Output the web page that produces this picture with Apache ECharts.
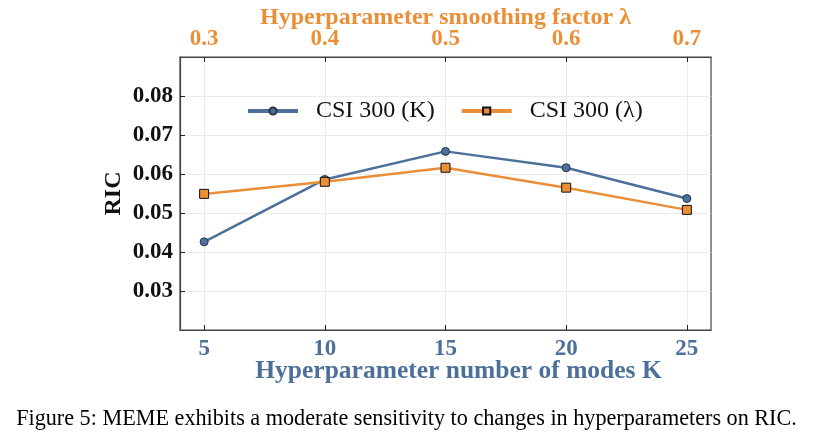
<!DOCTYPE html>
<html><head><meta charset="utf-8">
<script src="https://cdn.jsdelivr.net/npm/echarts@6/dist/echarts.min.js"></script>
<style>html,body{margin:0;padding:0;background:#fff;}#c{width:813px;height:442px;}</style>
</head><body><div id="c"></div>
<script>
const kValues = [5, 10, 15, 20, 25];
const lambdaValues = [0.3, 0.4, 0.5, 0.6, 0.7];
const ricK = [0.0426, 0.0586, 0.0658, 0.0616, 0.0537];
const ricLambda = [0.0549, 0.0580, 0.0616, 0.0565, 0.0508];
const yTicks = [0.03, 0.04, 0.05, 0.06, 0.07, 0.08];
const seriesNames = ['CSI 300 (K)', 'CSI 300 (λ)'];
const caption = 'Figure 5: MEME exhibits a moderate sensitivity to changes in hyperparameters on RIC.';

const blue = '#4d709b', orange = '#ea8f37';
const serif = 'Liberation Serif';
const chart = echarts.init(document.getElementById('c'));
chart.setOption({
  backgroundColor: '#fff',
  animation: false,
  title: {
    text: caption, left: 'center', top: 403,
    textStyle: { fontFamily: serif, fontSize: 22.2, fontWeight: 'normal', color: '#000' }
  },
  legend: {
    top: 94, left: 241, itemWidth: 50, itemHeight: 9, itemGap: 25,
    lineStyle: { width: 4 },
    textStyle: { fontFamily: serif, fontSize: 24, color: '#111', padding: [0, 0, 0, 13] },
    data: seriesNames
  },
  grid: { left: 180, right: 102, top: 57, bottom: 112, show: true, borderColor: '#444', borderWidth: 1.2,
          outerBoundsMode: 'none', containLabel: false },
  xAxis: [{
    type: 'value', min: 4, max: 26, position: 'bottom',
    name: 'Hyperparameter number of modes K', nameLocation: 'middle', nameGap: 28, nameMoveOverlap: false,
    nameTextStyle: { fontFamily: serif, fontSize: 25.5, fontWeight: 'bold', color: blue, padding: [0, 0, 0, 26] },
    axisLine: { show: true, lineStyle: { color: '#444', width: 1.2 } },
    axisTick: { show: true, inside: true, length: 5, lineStyle: { color: '#222' }, customValues: kValues },
    axisLabel: { fontFamily: serif, fontSize: 23, fontWeight: 'bold', color: blue, margin: 8, customValues: kValues },
    splitLine: { show: true, lineStyle: { color: '#e6e6e6', width: 0.8 } },
    customValues: kValues
  }, {
    type: 'value', min: 0.28, max: 0.72, position: 'top',
    name: 'Hyperparameter smoothing factor λ', nameLocation: 'middle', nameGap: 27, nameMoveOverlap: false,
    nameTextStyle: { fontFamily: serif, fontSize: 24, fontWeight: 'bold', color: orange },
    axisLine: { show: true, lineStyle: { color: '#444', width: 1.2 } },
    axisTick: { show: true, inside: true, length: 5, lineStyle: { color: '#222' }, customValues: lambdaValues },
    axisLabel: { fontFamily: serif, fontSize: 23, fontWeight: 'bold', color: orange, margin: 6,
      customValues: lambdaValues, formatter: v => v.toFixed(1) },
    splitLine: { show: false }
  }],
  yAxis: {
    type: 'value', min: 0.02, max: 0.09,
    name: 'RIC', nameLocation: 'middle', nameGap: 54, nameMoveOverlap: false,
    nameTextStyle: { fontFamily: serif, fontSize: 24, fontWeight: 'bold', color: '#111' },
    axisLine: { show: true, lineStyle: { color: '#444', width: 1.2 } },
    axisTick: { show: true, inside: true, length: 5, lineStyle: { color: '#222' }, customValues: yTicks },
    axisLabel: { fontFamily: serif, fontSize: 23, fontWeight: 'bold', color: '#111', margin: 7,
      customValues: yTicks, formatter: v => v.toFixed(2) },
    splitLine: { show: true, lineStyle: { color: '#e6e6e6', width: 0.8 } },
    customValues: yTicks
  },
  series: [{
    name: seriesNames[0], type: 'line', xAxisIndex: 0,
    data: kValues.map((k, i) => [k, ricK[i]]),
    symbol: 'circle', symbolSize: 8,
    lineStyle: { color: blue, width: 2.5 },
    itemStyle: { color: blue, borderColor: '#25354a', borderWidth: 1 }
  }, {
    name: seriesNames[1], type: 'line', xAxisIndex: 1,
    data: lambdaValues.map((l, i) => [l, ricLambda[i]]),
    symbol: 'rect', symbolSize: 9,
    lineStyle: { color: orange, width: 2.5 },
    itemStyle: { color: orange, borderColor: '#111', borderWidth: 1 }
  }]
});
</script></body></html>
